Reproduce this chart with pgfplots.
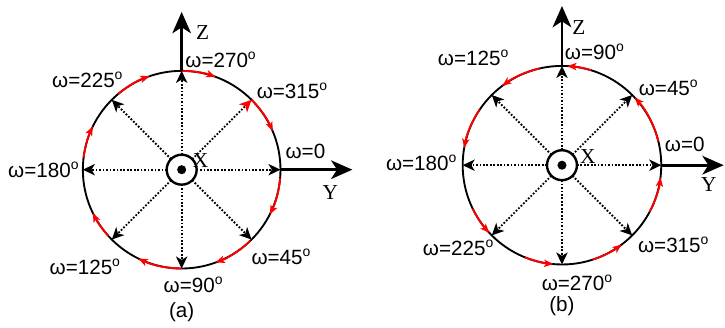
\documentclass[border=0pt]{standalone}
\usepackage{fontspec}
\setmainfont{Liberation Sans}
\newfontfamily\seriffont{Liberation Serif}
\usepackage{pgfplots}
\pgfplotsset{compat=1.18}
\usetikzlibrary{arrows.meta}
\newcommand{\dg}{\raisebox{0.75ex}{\fontsize{10.5}{11}\selectfont o}}
\begin{document}
\begin{tikzpicture}
\begin{axis}[scale only axis, width=543.75pt, height=246pt,
  xmin=0, xmax=725, ymin=0, ymax=328, y dir=reverse, hide axis, clip=false]
\addplot[draw=none] coordinates {(0,0) (725,328)};
\tikzset{
  big/.style={line width=1.4pt},
  dotarr/.style={line width=1.4pt, dash pattern=on 1.3pt off 1.3pt, -{Stealth[length=9pt,width=8.5pt,inset=2.5pt]}},
  redarc/.style={red, line width=1.4pt, -{Stealth[length=7pt,width=5.5pt,inset=1.8pt]}},
  axarr/.style={line width=2pt, -{Stealth[length=16pt,width=14pt,inset=4.5pt]}},
  lab/.style={font=\fontsize{15.5}{18}\selectfont, inner sep=0pt},
  slab/.style={font=\seriffont\fontsize{16}{18}\selectfont, inner sep=0pt}
}
% ---------------- panel (a) ----------------
\draw[big] (axis cs:182,170) circle[radius=74.25pt];
\pgfplotsinvokeforeach{0,90,135,180,225,270,315}{
  \draw[dotarr] ([shift={(#1:11.25pt)}]axis cs:182,170) -- ([shift={(#1:74.25pt)}]axis cs:182,170);
}
\draw[dotarr, -{Stealth[length=9pt,width=8.5pt,inset=2.5pt,red]}] ([shift={(45:11.25pt)}]axis cs:182,170) -- ([shift={(45:74.25pt)}]axis cs:182,170);
\draw[redarc] ([shift={(90:74.25pt)}]axis cs:182,170) arc[start angle=90, end angle=70, radius=74.25pt];
\draw[redarc] ([shift={(45:74.25pt)}]axis cs:182,170) arc[start angle=45, end angle=23, radius=74.25pt];
\draw[redarc] ([shift={(-5:74.25pt)}]axis cs:182,170) arc[start angle=-5, end angle=-27, radius=74.25pt];
\draw[redarc] ([shift={(-46:74.25pt)}]axis cs:182,170) arc[start angle=-46, end angle=-70, radius=74.25pt];
\draw[redarc] ([shift={(-90:74.25pt)}]axis cs:182,170) arc[start angle=-90, end angle=-116, radius=74.25pt];
\draw[redarc] ([shift={(-138:74.25pt)}]axis cs:182,170) arc[start angle=-138, end angle=-154, radius=74.25pt];
\draw[redarc] ([shift={(173:74.25pt)}]axis cs:182,170) arc[start angle=173, end angle=154, radius=74.25pt];
\draw[redarc] ([shift={(130:74.25pt)}]axis cs:182,170) arc[start angle=130, end angle=109, radius=74.25pt];
\draw[line width=1.8pt, fill=white] (axis cs:182,170) circle[radius=11.25pt];
\fill (axis cs:182,170) circle[radius=3.4pt];
\draw[axarr] (axis cs:182,71) -- (axis cs:182,12);
\draw[axarr] (axis cs:281,170) -- (axis cs:353,170);
\node[slab] at (axis cs:203,33) {Z};
\node[slab] at (axis cs:201,161) {X};
\node[slab] at (axis cs:331,193) {Y};
\node[lab] at (axis cs:221,60) {ω=270\dg};
\node[lab] at (axis cs:87.5,80) {ω=225\dg};
\node[lab] at (axis cs:292.5,91) {ω=315\dg};
\node[lab] at (axis cs:306,152) {ω=0};
\node[lab] at (axis cs:43.5,170) {ω=180\dg};
\node[lab] at (axis cs:85,267) {ω=125\dg};
\node[lab] at (axis cs:281.5,257) {ω=45\dg};
\node[lab] at (axis cs:193.5,285) {ω=90\dg};
\node[lab] at (axis cs:182,313) {(a)};
% ---------------- panel (b) ----------------
\draw[big] (axis cs:563,165.5) circle[radius=74.6pt];
\pgfplotsinvokeforeach{0,45,90,135,180,225,270,315}{
  \draw[dotarr] ([shift={(#1:11.25pt)}]axis cs:563,165.5) -- ([shift={(#1:74.6pt)}]axis cs:563,165.5);
}
\draw[redarc] ([shift={(-28:74.6pt)}]axis cs:563,165.5) arc[start angle=-28, end angle=-7, radius=74.6pt];
\draw[redarc] ([shift={(14:74.6pt)}]axis cs:563,165.5) arc[start angle=14, end angle=43, radius=74.6pt];
\draw[redarc] ([shift={(73:74.6pt)}]axis cs:563,165.5) arc[start angle=73, end angle=87, radius=74.6pt];
\draw[redarc] ([shift={(103:74.6pt)}]axis cs:563,165.5) arc[start angle=103, end angle=127, radius=74.6pt];
\draw[redarc] ([shift={(146:74.6pt)}]axis cs:563,165.5) arc[start angle=146, end angle=170, radius=74.6pt];
\draw[redarc] ([shift={(206:74.6pt)}]axis cs:563,165.5) arc[start angle=206, end angle=223, radius=74.6pt];
\draw[redarc] ([shift={(248:74.6pt)}]axis cs:563,165.5) arc[start angle=248, end angle=265, radius=74.6pt];
\draw[redarc] ([shift={(288:74.6pt)}]axis cs:563,165.5) arc[start angle=288, end angle=307, radius=74.6pt];
\draw[line width=1.8pt, fill=white] (axis cs:563,165.5) circle[radius=11.25pt];
\fill (axis cs:563,165.5) circle[radius=3.4pt];
\draw[axarr] (axis cs:563,66) -- (axis cs:563,6);
\draw[axarr] (axis cs:663,165.5) -- (axis cs:725,165.5);
\node[slab] at (axis cs:580,28) {Z};
\node[slab] at (axis cs:589,157) {X};
\node[slab] at (axis cs:710,185) {Y};
\node[lab] at (axis cs:595.5,52) {ω=90\dg};
\node[lab] at (axis cs:474,58) {ω=125\dg};
\node[lab] at (axis cs:669.5,88) {ω=45\dg};
\node[lab] at (axis cs:686,145) {ω=0};
\node[lab] at (axis cs:422,163) {ω=180\dg};
\node[lab] at (axis cs:459,248) {ω=225\dg};
\node[lab] at (axis cs:674.5,245) {ω=315\dg};
\node[lab] at (axis cs:578,283) {ω=270\dg};
\node[lab] at (axis cs:563,307) {(b)};
\end{axis}
\end{tikzpicture}
\end{document}
